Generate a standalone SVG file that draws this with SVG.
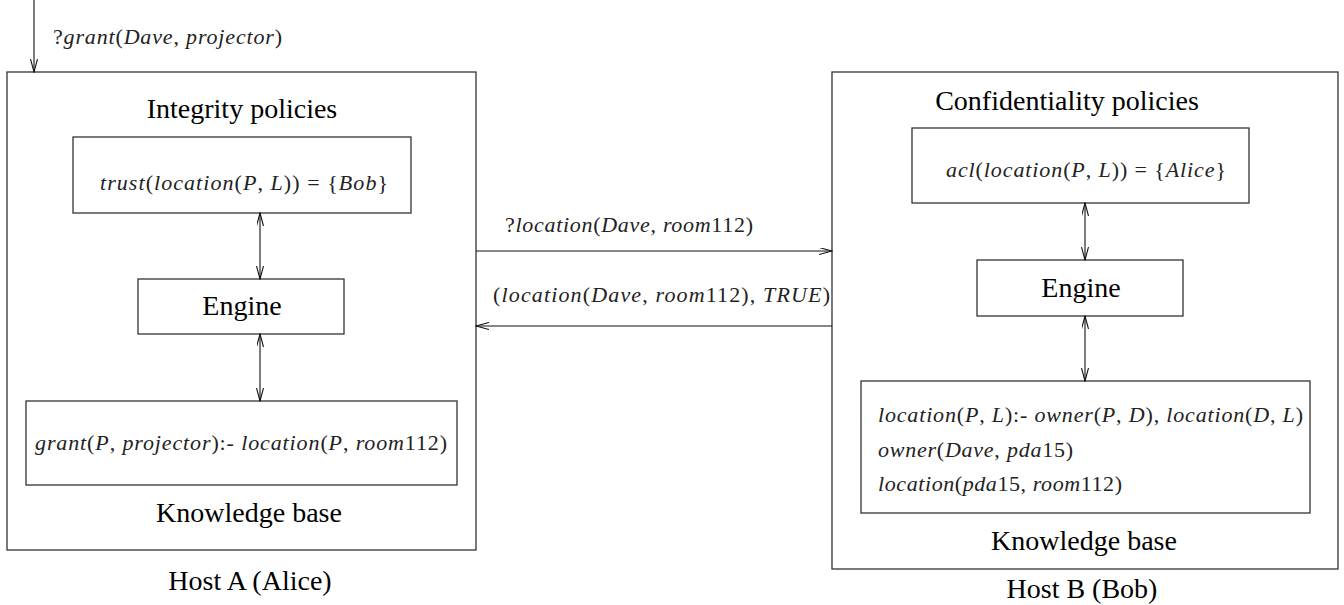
<svg xmlns="http://www.w3.org/2000/svg" width="1344" height="605" viewBox="0 0 1344 605">
<style>
.box{fill:#fff;stroke:#333;stroke-width:1.3}
.ln{fill:none;stroke:#111;stroke-width:1.1}
.lbl{font-family:"Liberation Serif","Times New Roman",serif;font-size:28px;fill:#000;text-anchor:middle}
.m{font-family:"Liberation Serif","Times New Roman",serif;font-size:22px;font-style:italic;fill:#222}
.u{font-style:normal}
</style>
<defs>
<marker id="ah" markerUnits="userSpaceOnUse" markerWidth="14" markerHeight="8" refX="13" refY="3.5" orient="auto-start-reverse" viewBox="0 0 14 8">
<path d="M0,0 L13,3.5 L0,7" fill="none" stroke="#111" stroke-width="1.1"/>
</marker>
</defs>
<rect width="1344" height="605" fill="#fff"/>

<g id="hostA">
<rect class="box" x="7" y="72" width="469" height="478"/>
<text class="lbl" x="242" y="118">Integrity policies</text>
<text class="lbl" x="249" y="522">Knowledge base</text>
<text class="lbl" x="250" y="590">Host A (Alice)</text>
</g>
<g id="trustPolicy">
<rect class="box" x="73" y="137" width="338" height="76"/>
<text class="m" x="100" y="190" textLength="288">trust<tspan class="u">(</tspan>location<tspan class="u">(</tspan>P<tspan class="u">, </tspan>L<tspan class="u">)) = {</tspan>Bob<tspan class="u">}</tspan></text>
</g>
<g id="engineA">
<rect class="box" x="138" y="279" width="206" height="55"/>
<text class="lbl" x="242" y="315">Engine</text>
</g>
<g id="kbA">
<rect class="box" x="26" y="401" width="431" height="84"/>
<text class="m" x="35" y="450" textLength="412">grant<tspan class="u">(</tspan>P<tspan class="u">, </tspan>projector<tspan class="u">):- </tspan>location<tspan class="u">(</tspan>P<tspan class="u">, </tspan>room<tspan class="u">112)</tspan></text>
</g>

<g id="hostB">
<rect class="box" x="832" y="72" width="506" height="497"/>
<text class="lbl" x="1067" y="110">Confidentiality policies</text>
<text class="lbl" x="1084" y="550">Knowledge base</text>
<text class="lbl" x="1082" y="598">Host B (Bob)</text>
</g>
<g id="aclPolicy">
<rect class="box" x="912" y="128" width="337" height="75"/>
<text class="m" x="946" y="177" textLength="280">acl<tspan class="u">(</tspan>location<tspan class="u">(</tspan>P<tspan class="u">, </tspan>L<tspan class="u">)) = {</tspan>Alice<tspan class="u">}</tspan></text>
</g>
<g id="engineB">
<rect class="box" x="977" y="260" width="206" height="56"/>
<text class="lbl" x="1081" y="297">Engine</text>
</g>
<g id="kbB">
<rect class="box" x="861" y="381" width="449" height="132"/>
<text class="m" x="878" y="422" textLength="425">location<tspan class="u">(</tspan>P<tspan class="u">, </tspan>L<tspan class="u">):- </tspan>owner<tspan class="u">(</tspan>P<tspan class="u">, </tspan>D<tspan class="u">), </tspan>location<tspan class="u">(</tspan>D<tspan class="u">, </tspan>L<tspan class="u">)</tspan></text>
<text class="m" x="878" y="457" textLength="195">owner<tspan class="u">(</tspan>Dave<tspan class="u">, </tspan>pda<tspan class="u">15)</tspan></text>
<text class="m" x="878" y="491" textLength="244">location<tspan class="u">(</tspan>pda<tspan class="u">15, </tspan>room<tspan class="u">112)</tspan></text>
</g>

<g id="connectors">
<line class="ln" x1="34" y1="0" x2="34" y2="72" marker-end="url(#ah)"/>
<text class="m" x="53" y="44" textLength="229"><tspan class="u">?</tspan>grant<tspan class="u">(</tspan>Dave<tspan class="u">, </tspan>projector<tspan class="u">)</tspan></text>
<line class="ln" x1="260" y1="213" x2="260" y2="279" marker-start="url(#ah)" marker-end="url(#ah)"/>
<line class="ln" x1="260" y1="334" x2="260" y2="401" marker-start="url(#ah)" marker-end="url(#ah)"/>
<line class="ln" x1="1085" y1="203" x2="1085" y2="260" marker-start="url(#ah)" marker-end="url(#ah)"/>
<line class="ln" x1="1085" y1="316" x2="1085" y2="381" marker-start="url(#ah)" marker-end="url(#ah)"/>
<line class="ln" x1="476" y1="251" x2="832" y2="251" marker-end="url(#ah)"/>
<text class="m" x="505" y="232" textLength="248"><tspan class="u">?</tspan>location<tspan class="u">(</tspan>Dave<tspan class="u">, </tspan>room<tspan class="u">112)</tspan></text>
<line class="ln" x1="832" y1="326" x2="476" y2="326" marker-end="url(#ah)"/>
<text class="m" x="493" y="302" textLength="337"><tspan class="u">(</tspan>location<tspan class="u">(</tspan>Dave<tspan class="u">, </tspan>room<tspan class="u">112), </tspan>TRUE<tspan class="u">)</tspan></text>
</g>
</svg>
